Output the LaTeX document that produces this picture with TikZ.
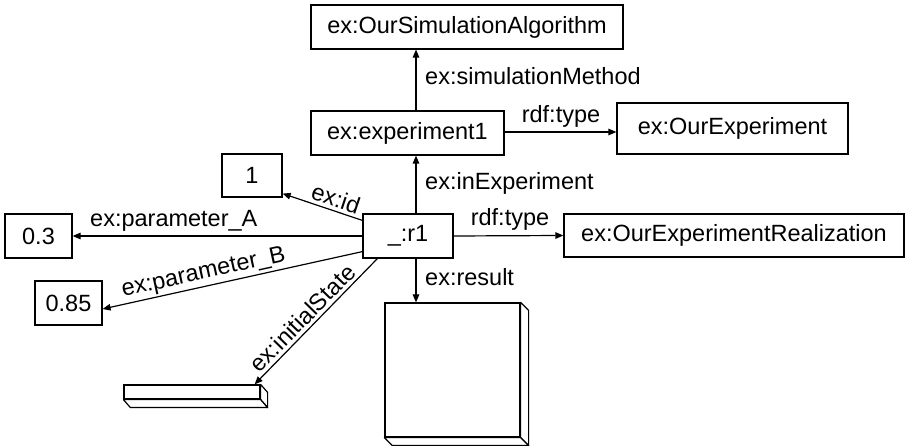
\documentclass[tikz,border=0pt]{standalone}
\usepackage{fontspec}
\setmainfont{Liberation Sans}
\usetikzlibrary{arrows.meta}
\begin{document}
\begin{tikzpicture}[x=1pt,y=-1pt,
  box/.style={draw, line width=1.2pt, fill=white, inner sep=0pt, font=\fontsize{23.5}{28}\selectfont},
  face/.style={draw, line width=1.2pt, fill=white, line join=round},
  lbl/.style={font=\fontsize{23.5}{28}\selectfont, inner sep=1pt},
  arr/.style={line width=1.2pt, -{Triangle[length=8pt,width=6.5pt]}}]
\useasboundingbox (0,0) rectangle (906,446);

\node[box, minimum width=312pt, minimum height=44pt] (sim) at (467,27) {ex:OurSimulationAlgorithm};
\node[box, minimum width=193pt, minimum height=44pt] (exp1) at (407.5,133) {ex:experiment1};
\node[box, minimum width=231pt, minimum height=51pt] (ourexp) at (732.5,128.5) {ex:OurExperiment};
\node[box, minimum width=60pt, minimum height=43pt] (one) at (252,175.5) {1};
\node[box, minimum width=90pt, minimum height=44pt] (r1) at (408,236) {\_:r1};
\node[box, minimum width=67pt, minimum height=44pt] (p3) at (38.5,236) {0.3};
\node[box, minimum width=67pt, minimum height=44pt] (p85) at (68.5,303) {0.85};
\node[box, minimum width=340pt, minimum height=43pt] (real) at (734,235.5) {ex:OurExperimentRealization};

% result block (3D)
\node[box, minimum width=135pt, minimum height=134pt] (res) at (452.5,370) {};
\draw[face] (res.north east) -- ++(8,8) -- ([shift={(8,8)}]res.south east) -- (res.south east) -- cycle;
\draw[face] (res.south west) -- ++(8,8) -- ([shift={(8,8)}]res.south east) -- (res.south east) -- cycle;

% initial state block (3D)
\node[box, minimum width=136pt, minimum height=14pt] (init) at (192,392) {};
\draw[face] (init.north east) -- ++(7,8) -- ([shift={(7,8)}]init.south east) -- (init.south east) -- cycle;
\draw[face] (init.south west) -- ++(7,8) -- ([shift={(7,8)}]init.south east) -- (init.south east) -- cycle;

\coordinate (vx) at (416,0);

\draw[arr] (vx |- exp1.north) -- (vx |- sim.south);
\draw[arr] (vx |- r1.north) -- (vx |- exp1.south);
\draw[arr] (vx |- r1.south) -- (vx |- res.north);
\draw[arr] (exp1.east |- 0,132) -- (ourexp.west |- 0,132);
\draw[arr] (r1.east) -- (real.west);
\draw[arr] (r1.west) -- (p3.east);
\draw[arr] ([yshift=-7pt]r1.north west) -- node[lbl, sloped, above=2pt, pos=0.38] {ex:id} ([yshift=4pt]one.south east);
\draw[arr] ([yshift=7pt]r1.south west) -- node[lbl, sloped, above=1pt, pos=0.6] {ex:parameter\_B} ([yshift=-6pt]p85.east);
\draw[arr] ([xshift=15pt]r1.south west) -- node[lbl, sloped, above=2pt, pos=0.54] {ex:initialState} ([xshift=-6pt]init.north east);

\node[lbl, anchor=base west] (l1) at (424,85) {ex:simulationMethod};
\node[lbl, anchor=base] (l2) at (561,123) {rdf:type};
\node[lbl, anchor=base west] (l3) at (424,190) {ex:inExperiment};
\node[lbl, anchor=base] (l4) at (510,226) {rdf:type};
\node[lbl, anchor=base west] (l5) at (424,286) {ex:result};
\node[lbl, anchor=base west] (l6) at (89,227) {ex:parameter\_A};
\end{tikzpicture}
\end{document}
